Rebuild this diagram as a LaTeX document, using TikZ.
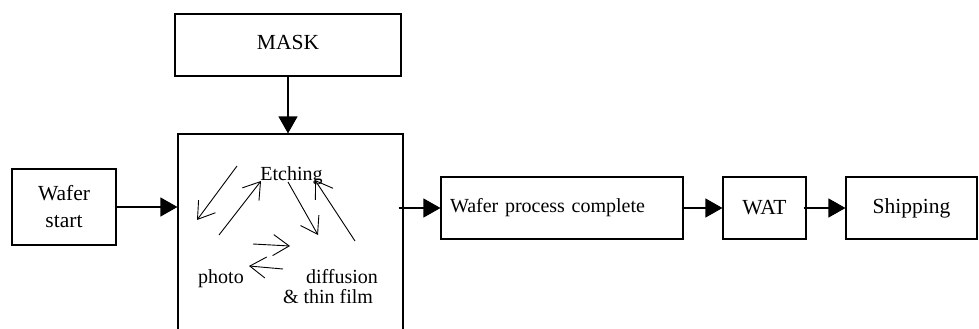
\documentclass[tikz,border=0pt]{standalone}
\usepackage{fontspec}
\setmainfont{Liberation Serif}
\usetikzlibrary{arrows.meta,calc}
\begin{document}
\begin{tikzpicture}[x=1pt,y=-1pt,
  box/.style={draw,line width=1.1pt,inner sep=0pt,font=\fontsize{21.5}{27}\selectfont},
  flow/.style={line width=1.1pt,-{Triangle[length=17pt,width=19pt]}},
  cyc/.style={line width=0.9pt,-{Straight Barb[length=16pt,width=21pt,line width=0.9pt]}},
  lbl/.style={inner sep=0pt,anchor=base,font=\fontsize{20}{24}\selectfont}]
\path[use as bounding box,clip] (0,0) rectangle (979,329);
% boxes
\node[box,minimum width=226pt,minimum height=62pt,text height=8pt,text depth=0pt] (mask) at (288,45) {MASK};
\node[draw,line width=1.1pt,minimum width=225pt,minimum height=240pt] (big) at (290.5,254) {};
\node[box,minimum width=104pt,minimum height=76pt,align=center] (ws) at (64,207) {Wafer\\start};
\node[box,font=\fontsize{20}{24}\selectfont,text width=224pt,align=left,inner xsep=9pt,minimum height=62pt] (wpc) at (562,208) {Wafer process complete};
\node[box,minimum width=83pt,minimum height=62pt] (wat) at (764.5,208) {WAT};
\node[box,minimum width=131pt,minimum height=62pt] (ship) at (911.5,208) {Shipping};
% labels inside the process box
\node[lbl] (etch) at (291.5,180) {Etching};
\node[lbl] (photo) at (221,283) {photo};
\node[lbl] (diff) at (342,283) {diffusion};
\node[lbl] (film) at (328,303) {\& thin film};
% main flow
\draw[flow] (mask.south) -- (mask.south |- big.north);
\draw[flow] (ws.east) -- (ws.east -| big.west);
\draw[flow] ($(big.east |- wpc.west)+(-5,0)$) -- (wpc.west);
\draw[flow] (wpc.east) -- (wat.west);
\draw[flow] ($(wat.east)+(-3,0)$) -- (ship.west);
% cycle arrows
\coordinate (a1s) at (237,166); \coordinate (a1e) at (197,220);
\coordinate (a2s) at (219,235); \coordinate (a2e) at (261,181);
\coordinate (a3s) at (288,182); \coordinate (a3e) at (318,235);
\coordinate (a4s) at (355,241); \coordinate (a4e) at (315,180);
\coordinate (a5s) at (253,244); \coordinate (a5e) at (290,246);
\coordinate (a6s) at (283,269); \coordinate (a6e) at (249,266);
\draw[cyc] (a1s) -- (a1e);
\draw[cyc] (a2s) -- (a2e);
\draw[cyc] (a3s) -- (a3e);
\draw[cyc] (a4s) -- (a4e);
\draw[cyc] (a5s) -- (a5e);
\draw[cyc] (a6s) -- (a6e);
\end{tikzpicture}
\end{document}
